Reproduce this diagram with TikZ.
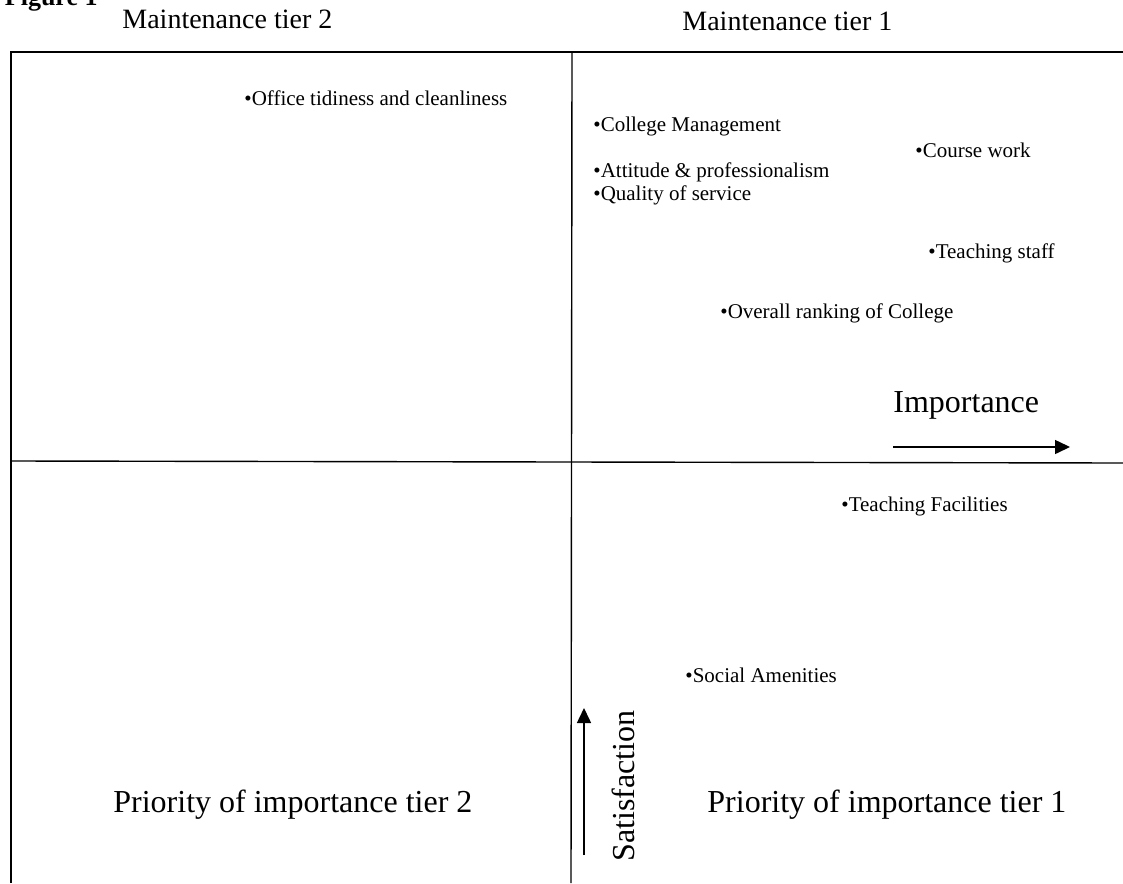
\documentclass[tikz,border=0pt]{standalone}
\usepackage{fontspec}
\setmainfont{Liberation Serif}
\usetikzlibrary{arrows.meta,positioning}

\tikzset{
	tier/.style={anchor=base west,inner sep=0pt,font=\fontsize{14}{16}\selectfont},
	quad/.style={anchor=base west,inner sep=0pt,font=\fontsize{16}{18}\selectfont},
	item/.style={anchor=base west,inner sep=0pt,font=\fontsize{10.5}{12}\selectfont},
	axisarrow/.style={line width=0.75pt,-{Triangle[length=7.5pt,width=7pt]}}
}

\begin{document}
\begin{tikzpicture}[x=0.5pt,y=-0.5pt]
	\useasboundingbox (0,0) rectangle (1123,883);
	\node[anchor=base east,inner sep=0pt,font=\fontsize{13}{15}\selectfont\bfseries] (fig) at (98,6) {Figure 1};

	% frame and quadrants
	\coordinate (tl) at (11,52);
	\coordinate (tr) at (1123,52);
	\coordinate (bl) at (11,883);
	\coordinate (mt) at (572,52);
	\coordinate (mb) at (571,883);
	\coordinate (ml) at (11,461);
	\coordinate (mr) at (1123,463);
	\draw[line width=1pt] (bl) -- (tl) -- (tr);
	\draw[line width=0.7pt] (mt) -- (mb);
	\draw[line width=0.7pt] (ml) -- (mr);

	\begin{scope}
		\node[tier] (mt2) at (122,29) {Maintenance tier 2};
		\node[tier] (mt1) at (682,31) {Maintenance tier 1};
		\node[quad] (pt2) at (113,812) {Priority of importance tier 2};
		\node[quad] (pt1) at (707,812) {Priority of importance tier 1};
	\end{scope}

	\begin{scope}
		\node[item] (office) at (244,105) {•Office tidiness and cleanliness};
		\node[item] (mgmt) at (593,132) {•College Management};
		\node[item] (course) at (915,157) {•Course work};
		\node[item] (attitude) at (593,177) {•Attitude \& professionalism};
		\node[item] (quality) at (593,200) {•Quality of service};
		\node[item] (staff) at (928,258) {•Teaching staff};
		\node[item] (overall) at (720,318) {•Overall ranking of College};
		\node[item] (facilities) at (841,511) {•Teaching Facilities};
		\node[item] (social) at (685,682) {•Social Amenities};
	\end{scope}

	% axes
	\node[quad] (imp) at (893,412) {Importance};
	\coordinate (impS) at (893,447);
	\coordinate (impE) at (1070,447);
	\draw[axisarrow] (impS) -- (impE);

	\node[quad,rotate=90] (sat) at (634,862) {Satisfaction};
	\coordinate (satS) at (584,855);
	\coordinate (satE) at (584,708);
	\draw[axisarrow] (satS) -- (satE);
\end{tikzpicture}
\end{document}
